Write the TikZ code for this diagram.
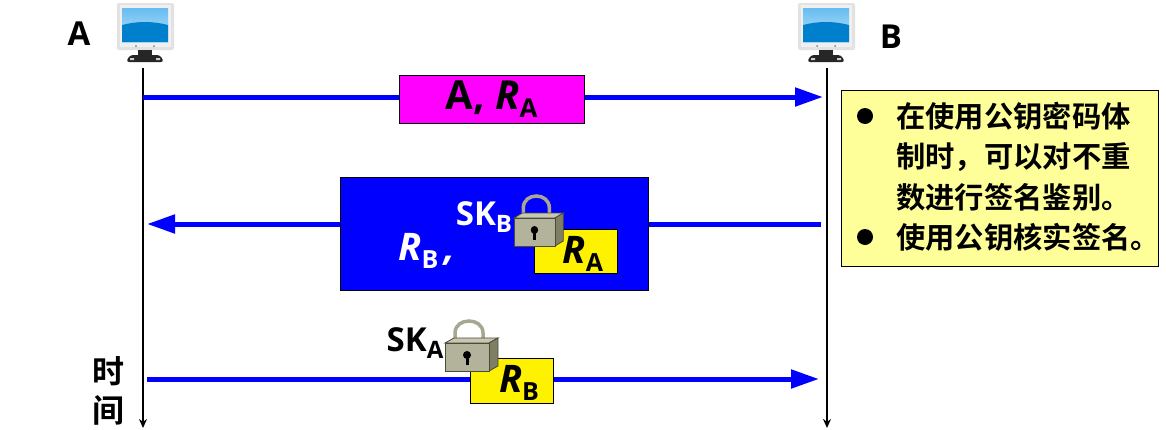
\documentclass[tikz,border=0pt]{standalone}
\usepackage{fontspec}
\setmainfont{Open Sans}
\newfontfamily\cjk{Noto Sans CJK SC}[BoldFont={* Bold}]
\usetikzlibrary{arrows.meta}
\definecolor{notefill}{HTML}{FFFF99}
\definecolor{lockfront}{HTML}{B3B39B}
\definecolor{locktop}{HTML}{C8C8B0}
\definecolor{lockside}{HTML}{7F7F63}
\definecolor{lockline}{HTML}{4A4A3A}
\definecolor{shackle}{HTML}{A8A890}
\definecolor{bezel}{HTML}{E2E2E2}
\definecolor{screenlow}{HTML}{0080CC}
\definecolor{screenhi}{HTML}{B8E4FA}
\definecolor{screenmid}{HTML}{68BCF0}
\definecolor{pinkbox}{HTML}{FF00FF}
\newcommand{\fs}[1]{\fontsize{#1}{#1}\selectfont}
\newcommand{\subt}[2]{\raisebox{-0.2em}{\fs{#1}\bfseries #2}}
\tikzset{
  x=1pt,y=-1pt,
  lifeline/.style={draw=black,line width=2pt,-{Stealth[length=9pt,width=8pt]}},
  msg/.style={draw=blue,line width=5pt,-{Triangle[length=28pt,width=18pt]}},
  msgbox/.style={draw=black,line width=1pt,inner sep=0pt,anchor=north west},
  label/.style={font=\fs{33}\bfseries,inner sep=0pt},
  biglabel/.style={font=\fs{38}\bfseries,inner sep=0pt},
  sklabel/.style={font=\fs{33}\bfseries,inner sep=0pt},
  notetext/.style={font=\fs{29.3}\cjk\bfseries,anchor=west,inner sep=0pt},
  timetext/.style={font=\fs{32}\cjk\bfseries,inner sep=0pt},
  bulletdot/.style={circle,fill=black,minimum size=16pt,inner sep=0pt},
  pics/monitor/.style={code={
    \fill[bezel,rounded corners=2pt] (0,0) rectangle (57,47);
    \fill[white!94!black] (3,2) rectangle (54,44);
    \shade[top color=screenmid,bottom color=screenhi] (5,5) rectangle (51,39);
    \fill[screenlow] (5,22) .. controls (20,18) and (36,18) .. (51,22) -- (51,39) -- (5,39) -- cycle;
    \fill[gray] (19,43) circle (1pt) (37,43) circle (1pt);
    \fill[black!85] (21,47) rectangle (35,53);
    \fill[black!85,rounded corners=3pt] (9,59) -- (13,52) -- (43,52) -- (47,59) -- cycle;
    \fill[white!80!black] (13,55) rectangle (17,57) (39,55) rectangle (43,57);
  }},
  pics/padlock/.style={code={
    \draw[shackle,line width=3.5pt] (10,-26) -- (10,-38) .. controls (10,-54) and (38,-54) .. (38,-38) -- (38,-28);
    \draw[lockline,line width=.8pt,fill=locktop] (0,-28) -- (9,-33) -- (53,-33) -- (44,-28) -- cycle;
    \draw[lockline,line width=.8pt,fill=lockside] (44,-28) -- (53,-33) -- (53,-5) -- (44,0) -- cycle;
    \draw[lockline,line width=.8pt,fill=lockfront] (0,-28) rectangle (44,0);
    \fill[black] (22,-16) circle (4pt);
    \fill[black] (20.5,-16) rectangle (23.5,-6);
  }}
}
\begin{document}
\begin{tikzpicture}
\useasboundingbox (0,0) rectangle (1166,429);
% actors
\pic at (117,3) {monitor};
\pic at (798,3) {monitor};
\node[label] (lblA) at (79,34) {A};
\node[label] (lblB) at (891,37) {B};
% lifelines
\coordinate (atop) at (143,68);
\coordinate (abot) at (143,428);
\coordinate (btop) at (827,68);
\coordinate (bbot) at (827,428);
\draw[lifeline] (atop) -- (abot);
\draw[lifeline] (btop) -- (bbot);
% arrow ends
\coordinate (m1s) at (143,97);
\coordinate (m1e) at (823,97);
\coordinate (m2s) at (821,224);
\coordinate (m2e) at (147,224);
\coordinate (m3s) at (147,379);
\coordinate (m3e) at (819,379);
\draw[msg] (m1s) -- (m1e);
\draw[msg] (m2s) -- (m2e);
\draw[msg] (m3s) -- (m3e);
% message 1
\node[msgbox,fill=pinkbox,minimum width=185pt,minimum height=48pt] (box1) at (399,75) {};
\node[biglabel,font=\fs{40}\bfseries] (t1) at (491.5,99) {A, \textit{R}\subt{26}{A}};
% message 2
\node[msgbox,fill=blue,minimum width=308pt,minimum height=113pt] (box2) at (340,177) {};
\node[biglabel,text=white] (t2) at (427,251) {\textit{R}\subt{25}{B}\,\textit{,}};
\node[sklabel,text=white] (sk2) at (484,217) {SK\subt{24}{B}};
\node[msgbox,fill=yellow,minimum width=83pt,minimum height=44pt] (ra) at (534,229) {};
\pic[xscale=.93] at (514,246) {padlock};
\node[biglabel] (tra) at (583,254) {\textit{R}\subt{25}{A}};
% message 3
\node[sklabel] (sk3) at (415,343) {SK\subt{24}{A}};
\node[msgbox,fill=yellow,minimum width=83pt,minimum height=45pt] (rb) at (470,358) {};
\pic at (445,371) {padlock};
\node[biglabel] (trb) at (519,383) {\textit{R}\subt{25}{B}};
% time
\node[timetext] (t3) at (108,371) {时};
\node[timetext] (t4) at (108,410) {间};
% note
\node[msgbox,fill=notefill,minimum width=317pt,minimum height=176pt] (note) at (841,90) {};
\node[bulletdot] (d1) at (865,116) {};
\node[bulletdot] (d2) at (865,237) {};
\node[notetext] (n1) at (896,116) {在使用公钥密码体};
\node[notetext] (n2) at (896,157) {制时，可以对不重};
\node[notetext] (n3) at (896,197) {数进行签名鉴别。};
\node[notetext] (n4) at (896,237) {使用公钥核实签名。};
\end{tikzpicture}
\end{document}
